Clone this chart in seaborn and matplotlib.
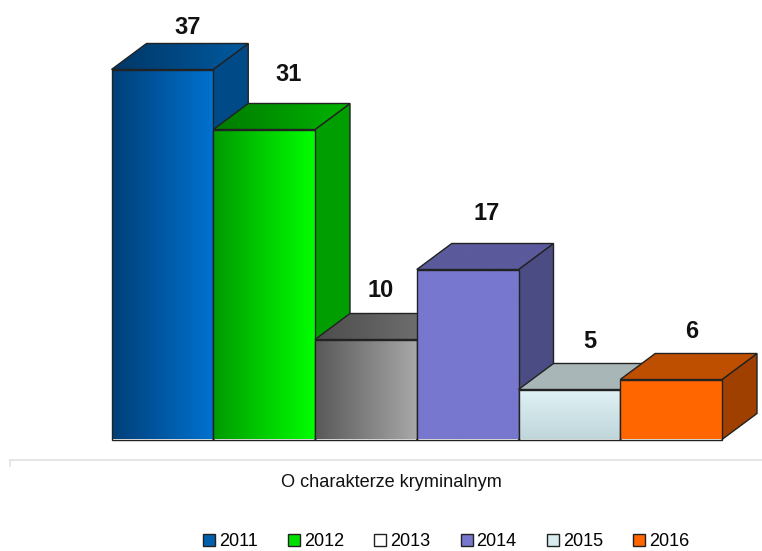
import numpy as np
import matplotlib
matplotlib.use('Agg')
import matplotlib.pyplot as plt
from matplotlib.colors import LinearSegmentedColormap
from matplotlib.lines import Line2D
from matplotlib.patches import Polygon
import seaborn as sns

years = ['2011', '2012', '2013', '2014', '2015', '2016']
values = [37, 31, 10, 17, 5, 6]
category = 'O charakterze kryminalnym'

legend_colors = ['#0060ae', '#00e000', '#ffffff', '#7777cf', '#d8ecef', '#ff6600']
front_from = ['#003f78', '#009a00', '#585858', '#7777cf', '#e0f2f5', '#ff6600']
front_to = ['#0072d0', '#00ff00', '#a8a8a8', '#7777cf', '#bfd6da', '#ff6600']
top_from = ['#003766', '#007a00', '#4c4c4c', '#5a5a9c', '#a9b6b7', '#bf4f00']
top_to = ['#005aa0', '#00b400', '#787878', '#5a5a9c', '#a9b6b7', '#bf4f00']
side_colors = ['#004a88', '#009e00', '#5a5a5a', '#4c4c84', '#8a9a9c', '#a04000']
vertical = [False, False, False, False, True, False]

# where each value label sits relative to its bar's front top centre, in pixels
label_dx = [25, 24, 14.6, 19, 20, 21]
label_dy = [35.5, 48.5, 42.5, 50, 41.5, 41.5]

px_per_x = 101.75   # bar width in pixels
px_per_y = 10.0     # pixels per unit
left_px = 111.5
base_px = 439.5
depth_x = 35 / px_per_x
depth_y = 26 / px_per_y
edge = '#222222'

plt.rcParams['font.family'] = ['Liberation Sans', 'DejaVu Sans']

fig = plt.figure(figsize=(7.62, 5.51), dpi=100)
ax = fig.add_axes([0, 0, 1, 1])

sns.barplot(x=years, y=values, hue=years, palette=legend_colors, width=1, gap=0,
            saturation=1, dodge=False, ax=ax, edgecolor=edge, linewidth=1, legend=True)
sns.move_legend(ax, 'lower left', bbox_to_anchor=(203 / 762, 0.001), ncol=6, frameon=False,
                title=None, fontsize=13, handlelength=0.67, handleheight=0.67,
                handletextpad=0.2, columnspacing=1.69, borderpad=0, borderaxespad=0)
for h in ax.get_legend().legend_handles:
    h.set_edgecolor(edge)
    h.set_linewidth(1)


def gradient(poly, c0, c1, is_vertical, z):
    xy = np.array(poly)
    cmap = LinearSegmentedColormap.from_list('g', [c0, c1])
    ramp = np.linspace(0, 1, 256)
    ramp = ramp[:, None] if is_vertical else ramp[None, :]
    im = ax.imshow(ramp, cmap=cmap, aspect='auto', origin='upper', zorder=z,
                   extent=(xy[:, 0].min(), xy[:, 0].max(), xy[:, 1].min(), xy[:, 1].max()))
    im.set_clip_path(Polygon(xy, closed=True, transform=ax.transData))


# seaborn leaves empty legend patches on the axes too, keep the real bars only
bars = sorted([p for p in ax.patches if p.get_height() > 0], key=lambda p: p.get_x())

for i, bar in enumerate(bars):
    z = 3 + i * 4
    x0 = bar.get_x()
    x1 = x0 + bar.get_width()
    v = bar.get_height()
    side = [(x1, 0), (x1 + depth_x, depth_y), (x1 + depth_x, v + depth_y), (x1, v)]
    top = [(x0, v), (x0 + depth_x, v + depth_y), (x1 + depth_x, v + depth_y), (x1, v)]
    front = [(x0, 0), (x1, 0), (x1, v), (x0, v)]
    ax.add_patch(Polygon(side, facecolor=side_colors[i], edgecolor=edge, lw=1, zorder=z))
    gradient(top, top_from[i], top_to[i], False, z + 1)
    ax.add_patch(Polygon(top, facecolor='none', edgecolor=edge, lw=1, zorder=z + 1))
    gradient(front, front_from[i], front_to[i], vertical[i], z + 2)
    bar.set_facecolor('none')
    bar.set_zorder(z + 3)
    ax.text(x0 + 0.5 + label_dx[i] / px_per_x, v + label_dy[i] / px_per_y, str(values[i]),
            ha='center', va='baseline', fontsize=17, fontweight='bold', color='#111111', zorder=40)

x_left = -0.5 - left_px / px_per_x
ax.set_xlim(x_left, x_left + 762 / px_per_x)
y_bottom = -(551 - base_px) / px_per_y
ax.set_ylim(y_bottom, y_bottom + 551 / px_per_y)
ax.axis('off')

# category axis below the bars
fig.add_artist(Line2D([10 / 762, 1], [1 - 460 / 551] * 2, color='#e2e2e2', lw=1.2))
fig.add_artist(Line2D([10 / 762] * 2, [1 - 460 / 551, 1 - 466 / 551], color='#e2e2e2', lw=1.2))
fig.text(391.5 / 762, 1 - 482.5 / 551, category, ha='center', va='center', fontsize=13.1, color='#111111')

fig.savefig('out.png', dpi=100)
